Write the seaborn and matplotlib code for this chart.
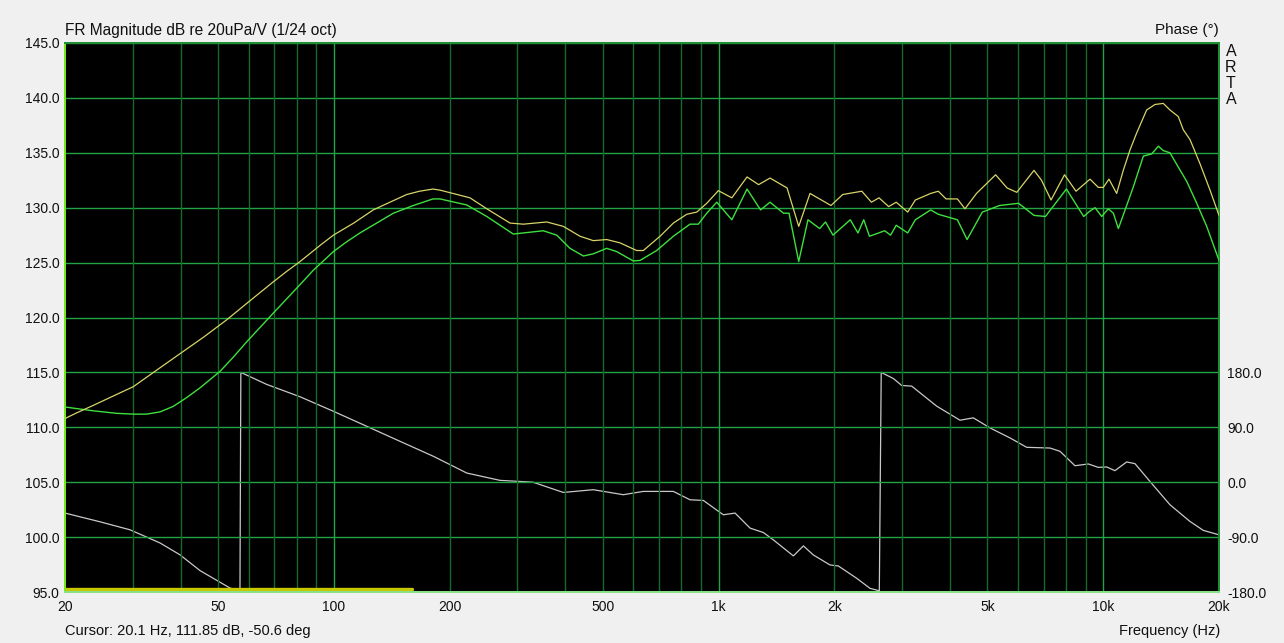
import numpy as np
import pandas as pd
import matplotlib
matplotlib.use("Agg")
import matplotlib.pyplot as plt
from matplotlib.ticker import FixedLocator, NullLocator
import seaborn as sns

# upper (yellow) magnitude trace, Hz / dB
yel_freq = [20, 21.4, 23.7, 26.7, 30.1, 34.6, 39.8, 45.8, 52.7, 60.4, 69.6, 75.4, 81.7, 92.3,
            99.7, 112.6, 126.6, 136.9, 154.6, 167, 181, 188.8,
            225.8, 249.8, 287, 310.9, 357.7, 394.9, 436.4, 472.5, 512, 554.3, 612.6, 637.6,
            704.6, 763, 826.6, 877.7, 931.9, 998.7, 1083, 1186, 1271, 1361, 1507, 1616,
            1729, 1960, 2103, 2358, 2497, 2613, 2769, 2897, 3103, 3248, 3560, 3727, 3903,
            4178, 4372, 4684, 5252, 5623, 5961, 6608, 6912, 7318, 7932, 8498, 9241, 9711,
            10006, 10351, 10838, 11276, 11737, 12216, 12970, 13631, 14325, 14914, 15674,
            16150, 16815, 17852, 18953, 20000]
yel_db = [110.8, 111.3, 112.0, 112.85, 113.7, 115.2, 116.7, 118.2, 119.8, 121.5, 123.25, 124.2,
          125.1, 126.6, 127.5, 128.6, 129.8, 130.35, 131.2, 131.5, 131.7, 131.6,
          130.9, 129.9, 128.6, 128.5, 128.7, 128.3, 127.4, 127.0, 127.1, 126.8, 126.1, 126.1,
          127.4, 128.6, 129.4, 129.6, 130.4, 131.55, 130.9, 132.8, 132.1, 132.7, 131.8, 128.3,
          131.3, 130.2, 131.2, 131.5, 130.5, 130.9, 130.1, 130.5, 129.6, 130.7, 131.3, 131.5, 130.8,
          130.8, 129.9, 131.3, 133.0, 131.8, 131.4, 133.4, 132.5, 130.7, 133.0, 131.5, 132.6, 131.85,
          131.85, 132.6, 131.3, 133.4, 135.25, 136.8, 138.9, 139.4, 139.5, 138.9, 138.3,
          137.1, 136.2, 134.0, 131.6, 129.3]

# lower (green) magnitude trace
grn_freq = [20, 23.7, 27.3, 30.1, 32.6, 35.3, 38.2, 41.4, 44.9, 50.6, 54.8, 59.4, 64.3, 69.6,
            75.4, 81.7, 88.4, 99.7, 108, 116.9, 129.2, 142.8, 160.9, 181, 188.8,
            221.5, 249.8, 292.7, 310.9, 350.2, 379.7, 410.9, 445.3, 472.5, 512, 543.6, 600.4,
            625.1, 690.5, 763, 843, 886, 931.9, 989.4, 1083, 1186, 1286, 1361, 1475, 1525,
            1616, 1708, 1832, 1897, 1984, 2200, 2304, 2385, 2468, 2704, 2800, 2897, 3103, 3248,
            3560, 3727, 4178, 4427, 4850, 5375, 6026, 6608, 7075, 8024, 8895, 9241, 9521,
            9911, 10310, 10627, 10950, 11508, 11977, 12716, 13371, 13911, 14325, 14914,
            15674, 16486, 17504, 18581, 20000]
grn_db = [111.85, 111.5, 111.27, 111.2, 111.2, 111.4, 111.9, 112.7, 113.6, 115.1, 116.4, 117.8,
          119.1, 120.4, 121.7, 123.0, 124.3, 126.0, 126.9, 127.7, 128.6, 129.5, 130.2, 130.8, 130.8,
          130.25, 129.2, 127.6, 127.7, 127.9, 127.5, 126.3, 125.6, 125.8, 126.3, 126.0, 125.15,
          125.2, 126.1, 127.4, 128.5, 128.5, 129.5, 130.5, 128.9, 131.7, 129.8, 130.5, 129.5, 129.5,
          125.1, 128.9, 128.1, 128.7, 127.5, 128.9, 127.7, 128.9, 127.4, 127.9, 127.5, 128.4, 127.7, 128.9,
          129.8, 129.4, 128.9, 127.1, 129.6, 130.2, 130.4, 129.3, 129.2, 131.7, 129.2, 129.7, 130.0,
          129.2, 129.9, 129.5, 128.1, 130.2, 131.9, 134.7, 134.9, 135.6, 135.2, 135.0,
          133.7, 132.4, 130.4, 128.3, 125.2]

# phase trace (wrapped), Hz / degrees
ph_freq = [20, 24.7, 29.5, 35.3, 39.8, 44.9, 53.7, 57.0, 57.3, 66.9, 81.7, 99.6, 121.7,
           148.6, 181.5, 221.6, 270.4, 329.4, 394.9, 472.5, 565.5, 637.6, 763, 843, 913,
           1029, 1104, 1208, 1308, 1388, 1565, 1662, 1763, 1948, 2048, 2286, 2476, 2618,
           2648, 2847, 2993, 3178, 3692, 4244, 4595, 5078, 5723, 6325, 7274, 7723, 8446,
           9148, 9711, 10209, 10729, 11508, 12095, 13228, 14914, 16815, 18210, 20000]
ph_deg = [-50.6, -65, -78, -99.5, -119, -145, -173.5, -178, 180, 160.3, 140, 116.4, 91.7,
          67, 42.4, 15, 3, 0, -16.8, -12.3, -20.5, -15.1, -15.1, -28.8, -29.9,
          -53.4, -50.6, -75.3, -82.5, -94.5, -120.8, -104.4, -119.2, -135.6, -137.3, -157.5, -174, -178,
          180, 170, 158.6, 157.5, 124.6, 101.6, 105.5, 89, 72.6, 57.2, 56, 50.6, 27,
          29.9, 24.3, 25, 18.9, 33.2, 30.4, 1.3, -37, -64.4, -79, -86.3]

# gate / range marker along the bottom
gate_freq = [20, 160]
gate_level = [95.25, 95.25]

xtick_vals = [20, 50, 100, 200, 500, 1000, 2000, 5000, 10000, 20000]
xtick_text = ["20", "50", "100", "200", "500", "1k", "2k", "5k", "10k", "20k"]
ytick_vals = [95, 100, 105, 110, 115, 120, 125, 130, 135, 140, 145]
ph_tick_vals = [-180, -90, 0, 90, 180]

sns.set_style("dark", {"axes.facecolor": "black"})
plt.rcParams["font.family"] = ["Liberation Sans", "DejaVu Sans"]

W, H = 1284, 643
fig = plt.figure(figsize=(W / 100, H / 100), dpi=100, facecolor="#F0F0F0")
ax = fig.add_axes([65 / W, 1 - 592 / H, 1154 / W, 549 / H])
ph = ax.twinx()

MINOR = "#156a2a"
MAJOR = "#22a446"

ax.set_xscale("log")
ax.set_xlim(20, 20000)
ax.set_ylim(95, 145)
ph.set_ylim(-180, 720)

ax.xaxis.set_major_locator(FixedLocator(xtick_vals))
ax.set_xticklabels(xtick_text)
ax.xaxis.set_minor_locator(NullLocator())
ax.set_yticks(ytick_vals)
ax.set_yticklabels([f"{v:.1f}" for v in ytick_vals])
ph.set_yticks(ph_tick_vals)
ph.set_yticklabels([f"{v:.1f}" for v in ph_tick_vals])

ax.grid(False)
ph.grid(False)
ax.yaxis.grid(True, which="major", color=MAJOR, linewidth=1.0)

# vertical log grid: 1..9 per decade, decades brighter
for dec in [10, 100, 1000, 10000]:
    for m in range(1, 10):
        f = dec * m
        if 20 < f < 20000:
            ax.axvline(f, color=MAJOR if m == 1 else MINOR, linewidth=1.0, zorder=0.6)

ax.tick_params(axis="both", which="both", length=0, labelsize=10, colors="#101010")
ax.tick_params(axis="x", pad=6)
ax.tick_params(axis="y", pad=4)
ph.tick_params(axis="y", length=0, labelsize=10, colors="#101010", pad=6)

for a in (ax, ph):
    a.spines["top"].set_color("#1f8f35")
    a.spines["right"].set_color("#1f8f35")
    a.spines["left"].set_color("#76e81a")
    a.spines["bottom"].set_color("#8adf8a")
    for s in a.spines.values():
        s.set_linewidth(1.4)

mag_yel = pd.DataFrame({"freq": yel_freq, "db": yel_db})
mag_grn = pd.DataFrame({"freq": grn_freq, "db": grn_db})
phase = pd.DataFrame({"freq": ph_freq, "deg": ph_deg})

sns.lineplot(x=gate_freq, y=gate_level, ax=ax, color="#c8c800", linewidth=2.4,
             estimator=None, sort=False)
sns.lineplot(data=phase, x="freq", y="deg", ax=ph, color="#c8c8c8", linewidth=0.9,
             estimator=None, sort=False)
sns.lineplot(data=mag_grn, x="freq", y="db", ax=ax, color="#3ee03e", linewidth=1.0,
             estimator=None, sort=False, zorder=3)
sns.lineplot(data=mag_yel, x="freq", y="db", ax=ax, color="#d8d468",
             linewidth=0.9, estimator=None, sort=False, zorder=3)

# magnitude axis on top, phase axis carries the black background
ax.set_zorder(ph.get_zorder() + 1)
ax.patch.set_visible(False)
ph.patch.set_visible(True)
ph.patch.set_facecolor("black")

for a in (ax, ph):
    a.set_xlabel("")
    a.set_ylabel("")

fig.text(65 / W, 1 - 30 / H, "FR Magnitude dB re 20uPa/V (1/24 oct)", fontsize=11.2,
         ha="left", va="center", color="#101010")
fig.text(1219 / W, 1 - 30 / H, "Phase (°)", fontsize=11, ha="right", va="center",
         color="#101010")
for i, ch in enumerate("ARTA"):
    fig.text(1231 / W, 1 - (51 + 16 * i) / H, ch, fontsize=11.5, ha="center", va="center",
             color="#101010")
fig.text(65 / W, 1 - 631 / H, "Cursor: 20.1 Hz, 111.85 dB, -50.6 deg", fontsize=10.5,
         ha="left", va="center", color="#101010")
fig.text(1220 / W, 1 - 631 / H, "Frequency (Hz)", fontsize=10.5, ha="right", va="center",
         color="#101010")

fig.savefig("out.png", dpi=100, facecolor=fig.get_facecolor())
